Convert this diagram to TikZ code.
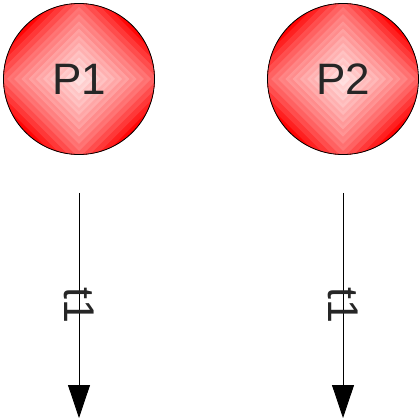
\documentclass[tikz,border=0pt]{standalone}
\usepackage{fontspec}
\setmainfont{Liberation Sans}
\usepackage{tikz}
\usetikzlibrary{arrows.meta,positioning,backgrounds}

\tikzset{
  place/.style={circle, draw=black, line width=0.8pt, minimum size=151pt, inner sep=0pt,
    text=black!85, font=\fontsize{44}{44}\selectfont},
  flow/.style={line width=0.8pt, -{Triangle[length=33pt,width=22pt]}},
  flowlabel/.style={rotate=-90, text=black!85, font=\fontsize{43}{43}\selectfont, inner sep=0pt},
}

\begin{document}
\begin{tikzpicture}[x=1pt,y=-1pt]
  \useasboundingbox (0,0) rectangle (419,419);
  % places
  \node[place] (P1) at (79,79) {P1};
  \node[place] (P2) at (343,79) {P2};
  % diamond shading behind the places
  \begin{scope}[on background layer]
    \foreach \p in {P1,P2} {
      \begin{scope}
        \clip (\p.center) circle[radius=75.5pt];
        \foreach \i in {30,29,...,1} {
          \pgfmathsetmacro\d{\i*3.6}
          \pgfmathsetmacro\t{\i/30}
          \pgfmathtruncatemacro\pct{min(100,8+60*\t+32*\t^4+5*mod(\i,2))}
          \fill[red!\pct!white, shift={(\p.center)}]
            (\d,0) -- (0,\d) -- (-\d,0) -- (0,-\d) -- cycle;
        }
      \end{scope}
    }
  \end{scope}
  % transitions
  \coordinate (s1) at (79,193);
  \coordinate (e1) at (79,418);
  \coordinate (s2) at (343,193);
  \coordinate (e2) at (343,418);
  \draw[flow] (s1) -- node[flowlabel] {t1} (e1);
  \draw[flow] (s2) -- node[flowlabel] {t1} (e2);
\end{tikzpicture}
\end{document}
